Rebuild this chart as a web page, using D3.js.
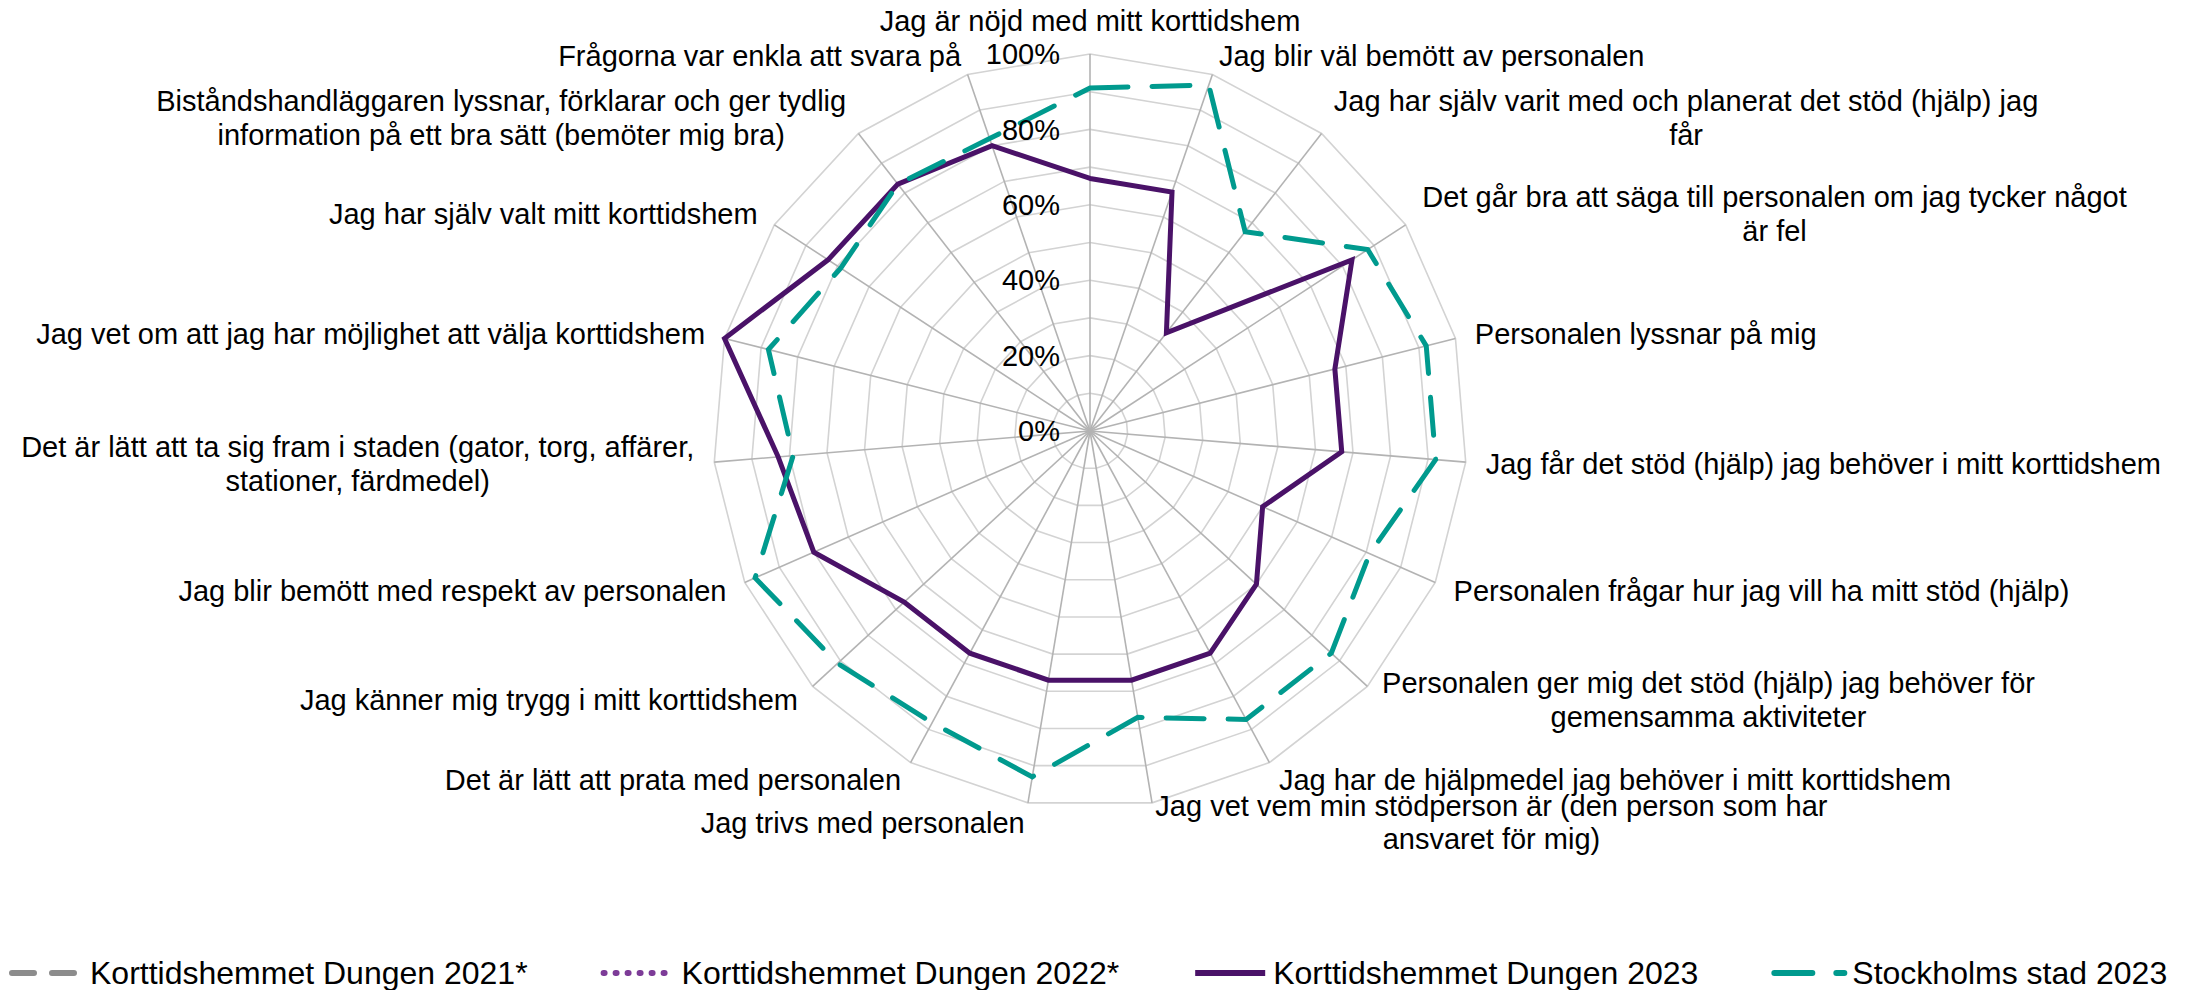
<!DOCTYPE html>
<html>
<head>
  <meta charset="utf-8" />
  <title>Korttidshemmet Dungen</title>
  <script src="https://d3js.org/d3.v7.min.js"></script>
  <style>
    body { margin: 0; background: #fff; }
    svg { display: block; font-family: "Liberation Sans", Arial, sans-serif; }
  </style>
</head>
<body>
<script>
  // Axis labels (clockwise from top), "\n" marks a line break
  const categories = [
    "Jag är nöjd med mitt korttidshem",
    "Jag blir väl bemött av personalen",
    "Jag har själv varit med och planerat det stöd (hjälp) jag\nfår",
    "Det går bra att säga till personalen om jag tycker något\när fel",
    "Personalen lyssnar på mig",
    "Jag får det stöd (hjälp) jag behöver i mitt korttidshem",
    "Personalen frågar hur jag vill ha mitt stöd (hjälp)",
    "Personalen ger mig det stöd (hjälp) jag behöver för\ngemensamma aktiviteter",
    "Jag har de hjälpmedel jag behöver i mitt korttidshem",
    "Jag vet vem min stödperson är (den person som har\nansvaret för mig)",
    "Jag trivs med personalen",
    "Det är lätt att prata med personalen",
    "Jag känner mig trygg i mitt korttidshem",
    "Jag blir bemött med respekt av personalen",
    "Det är lätt att ta sig fram i staden (gator, torg, affärer,\nstationer, färdmedel)",
    "Jag vet om att jag har möjlighet att välja korttidshem",
    "Jag har själv valt mitt korttidshem",
    "Biståndshandläggaren lyssnar, förklarar och ger tydlig\ninformation på ett bra sätt (bemöter mig bra)",
    "Frågorna var enkla att svara på"
  ];

  const tickValues = [0, 20, 40, 60, 80, 100];
  const tickLabels = ["0%", "20%", "40%", "60%", "80%", "100%"];

  const seriesNames = [
    "Korttidshemmet Dungen 2021*",
    "Korttidshemmet Dungen 2022*",
    "Korttidshemmet Dungen 2023",
    "Stockholms stad 2023"
  ];
  const dungen2021 = [];   // no values shown
  const dungen2022 = [];   // no values shown
  const dungen2023 = [67, 67, 33, 83, 67, 67, 50, 60, 67, 67, 67, 67, 67, 80, 83, 100, 83, 83, 80];
  const stockholm2023 = [91, 97, 67, 88, 92, 92, 81, 87, 87, 77, 93, 88, 91, 97, 79, 88, 79, 83, 82];

  const seriesColors = ["#8c8c8c", "#7d3c98", "#4a1268", "#009a8e"];
  const seriesDash = ["22,18", "1,11", null, "38,24"];

  const W = 2198, H = 990;
  const cx = 1090, cy = 431, R = 377;
  const fs = 29, lh = 33.5;

  const svg = d3.select("body").append("svg")
    .attr("width", W).attr("height", H);

  const n = categories.length;
  const angle = d3.scaleLinear().domain([0, n]).range([0, 2 * Math.PI]);
  const r = d3.scaleLinear().domain([0, 100]).range([0, R]);

  const g = svg.append("g").attr("transform", `translate(${cx},${cy})`);

  // grid rings every 10%
  const ringLine = v => d3.lineRadial()
    .angle((d, i) => angle(i))
    .radius(r(v))
    .curve(d3.curveLinearClosed)(categories);

  g.selectAll("path.ring")
    .data(d3.range(10, 101, 10))
    .enter().append("path")
    .attr("class", "ring")
    .attr("d", d => ringLine(d))
    .attr("fill", "none")
    .attr("stroke", "#d3d3d3")
    .attr("stroke-width", 1.6);

  // spokes
  g.selectAll("line.spoke")
    .data(categories)
    .enter().append("line")
    .attr("class", "spoke")
    .attr("x1", 0).attr("y1", 0)
    .attr("x2", (d, i) => r(100) * Math.sin(angle(i)))
    .attr("y2", (d, i) => -r(100) * Math.cos(angle(i)))
    .attr("stroke", "#b3b3b3")
    .attr("stroke-width", 1.6);

  // series
  const allSeries = [dungen2021, dungen2022, dungen2023, stockholm2023];
  const line = d3.lineRadial()
    .angle((d, i) => angle(i))
    .radius(d => r(d))
    .curve(d3.curveLinearClosed);

  allSeries.forEach((vals, k) => {
    if (!vals.length) return;
    g.append("path")
      .attr("d", line(vals))
      .attr("fill", "none")
      .attr("stroke", seriesColors[k])
      .attr("stroke-width", 5)
      .attr("stroke-linejoin", "miter")
      .attr("stroke-linecap", seriesDash[k] ? "round" : "butt")
      .attr("stroke-dasharray", seriesDash[k]);
  });

  // percent tick labels along the top axis
  g.selectAll("text.tick")
    .data(tickValues)
    .enter().append("text")
    .attr("class", "tick")
    .attr("x", -30)
    .attr("y", d => -r(d))
    .attr("dy", "0.35em")
    .attr("text-anchor", "end")
    .attr("font-size", fs)
    .attr("fill", "#000")
    .text((d, i) => tickLabels[i]);

  // category labels
  categories.forEach((label, i) => {
    const a = angle(i);
    const s = Math.sin(a), c = Math.cos(a);
    const lx = (R + 20) * s, ly = -(R + 20) * c;
    const lines = label.split("\n");
    const t = g.append("g");
    const texts = lines.map(l => t.append("text")
      .attr("font-size", fs).attr("fill", "#000")
      .attr("text-anchor", "middle").text(l));
    const w = d3.max(texts, tx => tx.node().getComputedTextLength());
    let bx;
    if (Math.abs(s) < 0.05) bx = lx;
    else if (s > 0) bx = lx + w / 2;
    else bx = lx - w / 2;
    let firstBase;
    if (Math.abs(s) < 0.05) {
      firstBase = ly - 3 - (lines.length - 1) * lh;
    } else {
      firstBase = ly - (lines.length * lh) / 2 + lh / 2 + 0.35 * fs;
    }
    texts.forEach((tx, j) => tx.attr("x", bx).attr("y", firstBase + j * lh));
  });

  // legend
  const legend = svg.append("g").attr("transform", "translate(0,973)");
  let x = 12;
  seriesNames.forEach((name, k) => {
    legend.append("line")
      .attr("x1", x).attr("x2", x + 70)
      .attr("y1", 0).attr("y2", 0)
      .attr("stroke", seriesColors[k])
      .attr("stroke-width", 6)
      .attr("stroke-linecap", seriesDash[k] ? "round" : "butt")
      .attr("stroke-dasharray", seriesDash[k]);
    const tx = legend.append("text")
      .attr("x", x + 78).attr("y", 0).attr("dy", "0.35em")
      .attr("font-size", 32).attr("fill", "#000")
      .text(name);
    x += 78 + tx.node().getComputedTextLength() + 76;
  });
</script>
</body>
</html>
